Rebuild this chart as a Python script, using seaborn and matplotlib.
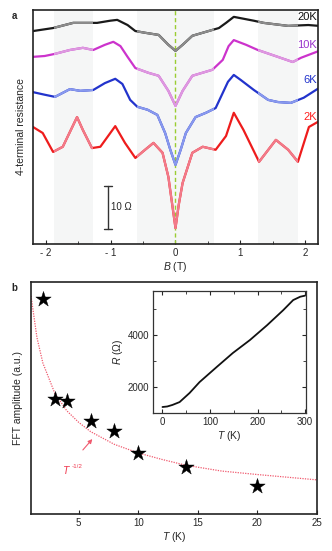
import numpy as np
import matplotlib
matplotlib.use("Agg")
import matplotlib.pyplot as plt
import matplotlib.transforms as mtransforms
from matplotlib.patches import Rectangle
from matplotlib.ticker import MultipleLocator
import seaborn as sns

# ---- panel a: magnetoresistance traces (offset, in Ohm) ----
B_20K = [-2.20, -1.89, -1.58, -1.21, -1.01, -0.90, -0.74, -0.62, -0.47, -0.26, -0.11, 0.0,
         0.11, 0.26, 0.51, 0.67, 0.78, 0.90, 1.21, 1.36, 1.74, 2.05, 2.22]
R_20K = [49.5, 50.2, 51.4, 51.4, 51.9, 52.1, 50.9, 49.5, 49.1, 48.6, 46.3, 44.9,
         46.3, 48.4, 49.5, 50.2, 51.4, 52.8, 51.9, 51.4, 50.7, 50.9, 50.7]

B_10K = [-2.20, -2.02, -1.86, -1.63, -1.43, -1.27, -1.09, -0.96, -0.85, -0.74, -0.62, -0.42,
         -0.26, -0.11, 0.0, 0.11, 0.26, 0.57, 0.73, 0.82, 0.90, 1.09, 1.27, 1.58, 1.81, 1.94, 2.22]
R_10K = [43.5, 43.7, 44.2, 45.1, 45.6, 45.1, 46.3, 47.0, 46.0, 43.5, 40.9, 39.8,
         39.1, 35.6, 32.1, 35.6, 39.1, 40.5, 42.8, 46.0, 47.4, 46.3, 45.1, 43.5, 42.3, 43.3, 44.9]

B_6K = [-2.20, -2.02, -1.86, -1.63, -1.47, -1.27, -1.09, -0.93, -0.82, -0.70, -0.59, -0.43,
        -0.28, -0.16, -0.08, 0.0, 0.08, 0.16, 0.31, 0.47, 0.62, 0.81, 0.90, 1.01, 1.21, 1.43,
        1.58, 1.78, 1.98, 2.22]
R_6K = [35.3, 34.7, 34.2, 36.0, 35.6, 35.8, 37.4, 38.4, 37.2, 33.5, 31.9, 31.2,
        30.0, 25.8, 21.9, 18.4, 21.9, 25.8, 29.5, 30.5, 31.6, 37.7, 39.3, 38.1, 35.8, 33.5,
        33.0, 32.8, 34.0, 36.3]

B_2K = [-2.20, -2.05, -1.89, -1.74, -1.52, -1.43, -1.29, -1.16, -0.93, -0.78, -0.62, -0.47,
        -0.34, -0.20, -0.11, -0.05, 0.0, 0.05, 0.11, 0.26, 0.42, 0.62, 0.78, 0.90, 1.05, 1.29,
        1.55, 1.74, 1.89, 2.06, 2.20]
R_2K = [27.2, 25.8, 21.4, 22.6, 29.5, 26.5, 22.3, 22.6, 27.4, 23.5, 20.0, 21.9,
        23.5, 21.2, 15.6, 9.1, 3.7, 9.1, 14.2, 21.2, 22.6, 21.9, 25.1, 30.5, 26.5, 19.1,
        24.2, 21.9, 19.1, 27.2, 28.4]

temps = ["20K", "10K", "6K", "2K"]
dark_colors = ["#1a1a1a", "#cc33cc", "#2233cc", "#ee1c1c"]
light_colors = ["#8c8c8c", "#dd99e0", "#8899ee", "#f27a8a"]
label_colors = ["#111111", "#9933cc", "#2233cc", "#ff2222"]
label_y = [52.8, 46.3, 38.1, 29.5]

bands = [(-1.87, -1.27), (-0.60, 0.60), (1.27, 1.89)]

# ---- panel b: FFT amplitude vs T ----
T_fft = [2, 3, 4, 6, 8, 10, 14, 20]
amp_fft = [0.927, 0.496, 0.487, 0.401, 0.358, 0.263, 0.203, 0.121]

T_fit = [1, 1.5, 2, 3, 4, 5, 6, 8, 10, 12, 14, 17, 20, 25]
amp_fit = [0.94, 0.76, 0.65, 0.52, 0.445, 0.395, 0.355, 0.30, 0.263, 0.235, 0.21, 0.185, 0.17, 0.147]

# inset: R(T)
T_R = [0, 10, 21, 36, 57, 78, 114, 148, 184, 220, 254, 275, 290, 300]
R_T = [1230, 1250, 1310, 1420, 1770, 2190, 2770, 3310, 3810, 4380, 4960, 5350, 5480, 5520]

sns.set_style("ticks")
plt.rcParams['font.family'] = ['Liberation Sans', 'DejaVu Sans']
plt.rcParams['mathtext.fontset'] = 'custom'
plt.rcParams['mathtext.rm'] = 'Liberation Sans'
plt.rcParams['mathtext.it'] = 'Liberation Sans:italic'

fig = plt.figure(figsize=(3.32, 5.51), dpi=100)

# ---------- panel a ----------
ax = fig.add_axes([0.0994, 0.5572, 0.8584, 0.4247])
for lo, hi in bands:
    ax.axvspan(lo, hi, color="#f5f6f6", lw=0, zorder=0)
ax.axvline(0, color="#9acd32", ls=(0, (3, 2)), lw=1.0, zorder=1)

blend = mtransforms.blended_transform_factory(ax.transData, ax.transAxes)
curves = [(B_20K, R_20K), (B_10K, R_10K), (B_6K, R_6K), (B_2K, R_2K)]
for (bx, ry), dc, lc in zip(curves, dark_colors, light_colors):
    sns.lineplot(x=bx, y=ry, ax=ax, color=dc, lw=1.6, estimator=None, sort=False, zorder=2)
    for lo, hi in bands:
        sns.lineplot(x=bx, y=ry, ax=ax, color=lc, lw=1.6, estimator=None, sort=False, zorder=3)
        clip = Rectangle((lo, 0), hi - lo, 1, transform=blend)
        ax.lines[-1].set_clip_path(clip)

for t, c, yy in zip(temps, label_colors, label_y):
    ax.text(2.19, yy, t, color=c, fontsize=8, ha="right", va="center", zorder=4)

# scale bar 10 Ohm
ax.plot([-1.04, -1.04], [3.5, 13.5], color="#333333", lw=1.0)
ax.plot([-1.10, -0.98], [3.5, 3.5], color="#333333", lw=1.0)
ax.plot([-1.10, -0.98], [13.5, 13.5], color="#333333", lw=1.0)
ax.text(-1.0, 8.5, "10 Ω", fontsize=7, ha="left", va="center")

ax.set_xlim(-2.2, 2.2)
ax.set_ylim(0, 54.4)
ax.set_yticks([])
ax.set_xticks([-2, -1, 0, 1, 2])
ax.set_xticklabels(["- 2", "- 1", "0", "1", "2"])
ax.xaxis.set_minor_locator(MultipleLocator(0.5))
ax.tick_params(axis="x", which="major", direction="in", length=3, labelsize=7, pad=3)
ax.tick_params(axis="x", which="minor", direction="in", length=2)
ax.set_xlabel("$B$ (T)", fontsize=7.5, labelpad=1)
ax.set_ylabel("4-terminal resistance", fontsize=7.5, labelpad=5)
for s in ax.spines.values():
    s.set_linewidth(1.2)
    s.set_color("#222222")
fig.text(0.035, 0.965, "a", fontsize=7, fontweight="bold")

# ---------- panel b ----------
bx2 = fig.add_axes([0.0934, 0.0672, 0.8614, 0.4210])
sns.lineplot(x=T_fit, y=amp_fit, ax=bx2, color="#f05a6e", lw=0.9, ls=(0, (1, 1)),
             estimator=None, sort=False)
sns.scatterplot(x=T_fft, y=amp_fft, ax=bx2, marker="*", s=135, color="black",
                edgecolor="black", linewidth=0.3, zorder=3)
bx2.annotate("", xy=(6.3, 0.332), xytext=(5.2, 0.267),
             arrowprops=dict(arrowstyle="-|>", color="#f05a6e", lw=0.8, mutation_scale=6))
bx2.text(4.0, 0.19, "$T$", color="#f03a50", fontsize=7.5, ha="center", va="center")
bx2.text(4.45, 0.205, "-1/2", color="#f03a50", fontsize=4.5, ha="left", va="center")
bx2.set_xlim(1, 25)
bx2.set_ylim(0, 1)
bx2.set_yticks([])
bx2.set_xticks([5, 10, 15, 20, 25])
bx2.tick_params(axis="x", direction="in", length=3, labelsize=7, pad=3)
bx2.set_xlabel("$T$ (K)", fontsize=7.5, labelpad=1)
bx2.set_ylabel("FFT amplitude (a.u.)", fontsize=7.5, labelpad=6)
for s in bx2.spines.values():
    s.set_linewidth(1.2)
    s.set_color("#222222")
fig.text(0.035, 0.472, "b", fontsize=7, fontweight="bold")

# ---------- inset ----------
ins = fig.add_axes([0.4608, 0.2505, 0.4609, 0.2214])
sns.lineplot(x=T_R, y=R_T, ax=ins, color="#111111", lw=1.3, estimator=None, sort=False)
ins.set_xlim(-20, 302)
ins.set_ylim(1000, 5700)
ins.set_xticks([0, 100, 200, 300])
ins.set_yticks([2000, 4000])
ins.xaxis.set_minor_locator(MultipleLocator(50))
ins.yaxis.set_minor_locator(MultipleLocator(1000))
ins.tick_params(which="both", direction="in", top=True, right=True, labelsize=7, pad=3)
ins.tick_params(which="major", length=3)
ins.tick_params(which="minor", length=2)
ins.set_xlabel("$T$ (K)", fontsize=7.5, labelpad=1)
ins.set_ylabel("$R$ (Ω)", fontsize=7.5, labelpad=2)
for s in ins.spines.values():
    s.set_linewidth(0.9)
    s.set_color("#333333")

fig.savefig("out.png", dpi=100)
